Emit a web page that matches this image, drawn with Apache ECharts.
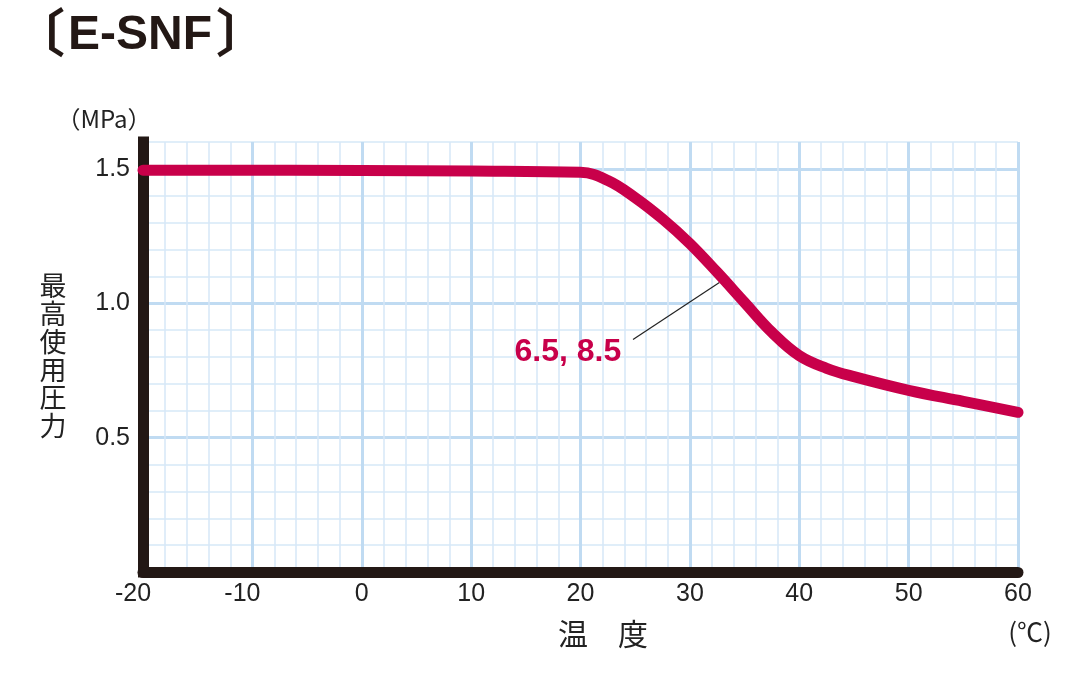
<!DOCTYPE html>
<html>
<head>
<meta charset="utf-8">
<script src="https://cdn.jsdelivr.net/npm/echarts@6/dist/echarts.min.js"></script>
<style>html,body{margin:0;padding:0;background:#fff}#c{width:1090px;height:680px}</style>
</head>
<body>
<div id="c"></div>
<script>
// Data
const temperatures = [-20, 0, 10, 20, 22.5, 25, 27.5, 30, 32.5, 35, 37.5, 40, 42.5, 45, 50, 55, 60];
const pressures = [1.495, 1.494, 1.492, 1.487, 1.457, 1.393, 1.314, 1.222, 1.115, 1.003, 0.892, 0.805, 0.758, 0.727, 0.676, 0.635, 0.594];
const xTicks = [-20, -10, 0, 10, 20, 30, 40, 50, 60];
const yTickLabels = [0.5, 1.0, 1.5];
const seriesName = '6.5, 8.5';
const leaderFrom = [24.8, 0.865];
const leaderTo = [32.7, 1.077];
const labelAt = [18.85, 0.817];

const RED = '#c8004a';
const INK = '#231815';
const MAJOR = '#c0dbf2';
const MINOR = '#d6e8f7';
const LATIN = '"Liberation Sans", Arial, Helvetica, sans-serif';
const CJK = '"Noto Sans CJK JP", "Liberation Sans", sans-serif';

const chart = echarts.init(document.getElementById('c'));
chart.setOption({
  animation: false,
  backgroundColor: '#fff',
  grid: { left: 143, right: 72, top: 142, bottom: 108, containLabel: false },
  xAxis: {
    type: 'value', min: xTicks[0], max: xTicks[xTicks.length - 1], interval: 10,
    axisLine: { show: true, onZero: false, lineStyle: { color: INK, width: 11 } },
    axisTick: { show: false },
    minorTick: { show: false, splitNumber: 5 },
    splitLine: { show: true, lineStyle: { color: MAJOR, width: 3 } },
    minorSplitLine: { show: true, lineStyle: { color: MINOR, width: 1.5 } },
    axisLabel: {
      color: '#222', fontSize: 25, fontFamily: LATIN, margin: 10,
      formatter: function (v) { return v < 0 ? '{neg|' + v + '}' : String(v); },
      rich: { neg: { fontSize: 25, fontFamily: LATIN, color: '#222', padding: [0, 20, 0, 0] } }
    }
  },
  yAxis: [{
    type: 'value', min: 0, max: 1.6, interval: 0.1,
    axisLine: { show: true, onZero: false, lineStyle: { color: INK, width: 11, cap: 'square' } },
    axisTick: { show: false },
    splitLine: { show: true, lineStyle: { color: MINOR, width: 1.5 } },
    axisLabel: {
      color: '#222', fontSize: 25, fontFamily: LATIN, margin: 13,
      formatter: function (v) {
        const r = Math.round(v * 10);
        for (const t of yTickLabels) { if (Math.round(t * 10) === r) return t.toFixed(1); }
        return '';
      }
    }
  }, {
    type: 'value', min: 0, max: 1.6, interval: 0.5, position: 'left',
    axisLine: { show: false }, axisTick: { show: false }, axisLabel: { show: false },
    splitLine: { show: true, lineStyle: { color: [MAJOR, MAJOR, MAJOR, MAJOR, 'rgba(0,0,0,0)'], width: 3 } }
  }],
  series: [{
    name: seriesName,
    type: 'line',
    yAxisIndex: 0,
    smooth: 0.4,
    symbol: 'none',
    data: temperatures.map((t, i) => [t, pressures[i]]),
    lineStyle: { color: RED, width: 11, cap: 'round', join: 'round' },
    z: 5,
    markLine: {
      silent: true, symbol: 'none', animation: false,
      lineStyle: { color: '#222', width: 1.2, type: 'solid' },
      label: { show: false },
      data: [[{ coord: leaderFrom }, { coord: leaderTo }]]
    },
    markPoint: {
      silent: true, symbol: 'circle', symbolSize: 0,
      data: [{ coord: labelAt }],
      label: {
        show: true, position: 'inside', formatter: seriesName,
        color: RED, fontSize: 32, fontWeight: 'bold', fontFamily: LATIN
      }
    }
  }],
  graphic: [
    { type: 'text', left: 13, top: 6, style: { text: '〔', font: 'bold 52px ' + CJK, fill: INK } },
    { type: 'text', left: 68, top: 12, style: { text: 'E-SNF', font: 'bold 48px ' + LATIN, fill: INK } },
    { type: 'text', left: 216, top: 6, style: { text: '〕', font: 'bold 52px ' + CJK, fill: INK } },
    { type: 'text', x: 104, y: 119, style: { text: '（MPa）', font: '24px ' + CJK, fill: '#222', align: 'center', verticalAlign: 'middle' } },
    { type: 'text', x: 53, y: 356, style: { text: '最\n高\n使\n用\n圧\n力', font: '27px ' + CJK, lineHeight: 28, fill: '#222', align: 'center', verticalAlign: 'middle' } },
    { type: 'text', x: 603, y: 634, style: { text: '温　度', font: '30px ' + CJK, fill: '#222', align: 'center', verticalAlign: 'middle' } },
    { type: 'text', x: 1030, y: 632, style: { text: '(℃)', font: '26px ' + CJK, fill: '#222', align: 'center', verticalAlign: 'middle' } }
  ]
});
</script>
</body>
</html>
